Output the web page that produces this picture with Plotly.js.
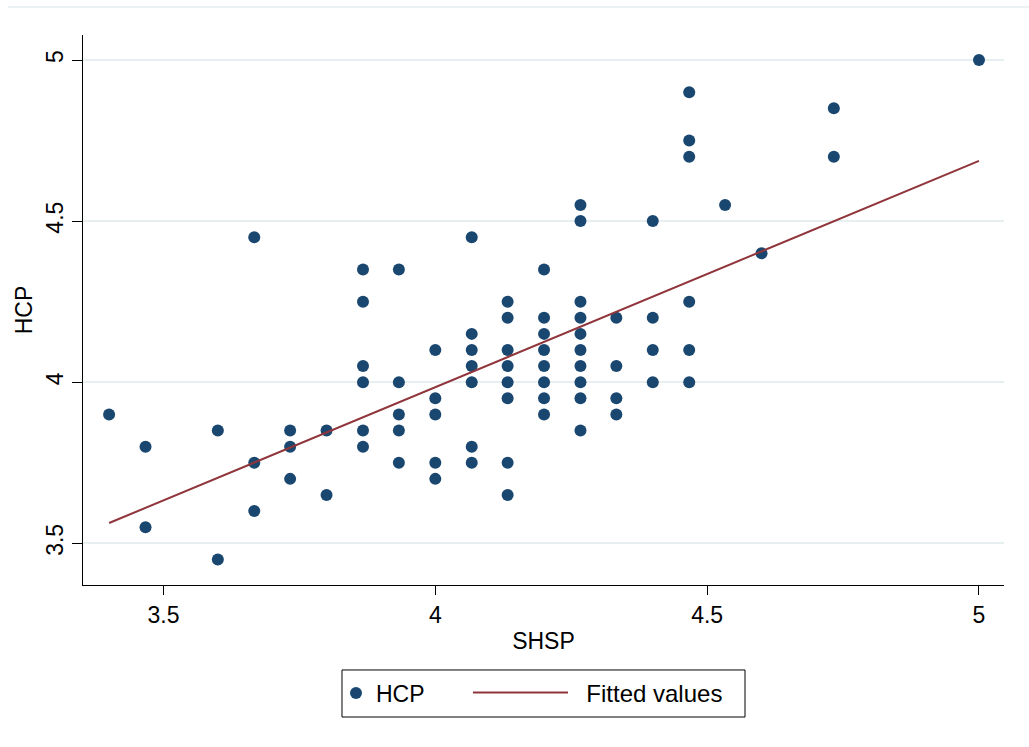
<!DOCTYPE html>
<html>
<head>
<meta charset="utf-8">
<script src="https://cdn.plot.ly/plotly-3.0.1.min.js"></script>
<style>
  html, body { margin: 0; padding: 0; background: #ffffff; }
  #chart { width: 1029px; height: 747px; }
</style>
</head>
<body>
<div id="chart"></div>
<script>
// SHSP levels (x) and the HCP values observed at each level (y)
const shspLevels = [3.4, 3.467, 3.6, 3.667, 3.733, 3.8, 3.867, 3.933, 4.0, 4.067,
                    4.133, 4.2, 4.267, 4.333, 4.4, 4.467, 4.533, 4.6, 4.733, 5.0];
const hcpAtLevel = [
  [3.9],
  [3.8, 3.55],
  [3.85, 3.45],
  [4.45, 3.75, 3.6],
  [3.85, 3.8, 3.7],
  [3.85, 3.65],
  [4.35, 4.25, 4.05, 4.0, 3.85, 3.8],
  [4.35, 4.0, 3.9, 3.85, 3.75],
  [4.1, 3.95, 3.9, 3.75, 3.7],
  [4.45, 4.15, 4.1, 4.05, 4.0, 3.8, 3.75],
  [4.25, 4.2, 4.1, 4.05, 4.0, 3.95, 3.75, 3.65],
  [4.35, 4.2, 4.15, 4.1, 4.05, 4.0, 3.95, 3.9],
  [4.55, 4.5, 4.25, 4.2, 4.15, 4.1, 4.05, 4.0, 3.95, 3.85],
  [4.2, 4.05, 3.95, 3.9],
  [4.5, 4.2, 4.1, 4.0],
  [4.9, 4.75, 4.7, 4.25, 4.1, 4.0],
  [4.55],
  [4.4],
  [4.85, 4.7],
  [5.0]
];
// Fitted values line (endpoints)
const fittedX = [3.4, 5.0];
const fittedY = [3.563, 4.687];

const xTicks = [3.5, 4, 4.5, 5];
const xTickText = ['3.5', '4', '4.5', '5'];
const yTicks = [3.5, 4, 4.5, 5];
const yTickText = ['3.5', '4', '4.5', '5'];

const scatterX = [], scatterY = [];
shspLevels.forEach((lv, i) => {
  hcpAtLevel[i].forEach(v => { scatterX.push(lv); scatterY.push(v); });
});

const FONT = 'Liberation Sans, Arial, sans-serif';

const traces = [
  {
    type: 'scatter', mode: 'markers', name: 'HCP',
    x: scatterX, y: scatterY,
    marker: { color: '#1a476f', size: 12, line: { width: 0 } },
    legend: 'legend'
  },
  {
    type: 'scatter', mode: 'lines', name: '\u00a0\u00a0Fitted values',
    x: fittedX, y: fittedY,
    line: { color: '#90353b', width: 2 },
    legend: 'legend2'
  }
];

const layout = {
  width: 1029, height: 747,
  margin: { l: 83, r: 25, t: 35, b: 162 },
  paper_bgcolor: '#ffffff', plot_bgcolor: '#ffffff',
  font: { family: FONT, size: 23, color: '#000000' },
  showlegend: true,
  legend: {
    orientation: 'h', x: 0.2747, xanchor: 'left', y: -0.1964, yanchor: 'middle',
    borderwidth: 0, bgcolor: 'rgba(0,0,0,0)',
    font: { family: FONT, size: 23, color: '#000000' }, itemwidth: 30
  },
  legend2: {
    orientation: 'h', x: 0.418, xanchor: 'left', y: -0.1964, yanchor: 'middle',
    borderwidth: 0, bgcolor: 'rgba(0,0,0,0)',
    font: { family: FONT, size: 24, color: '#000000' }, itemwidth: 95
  },
  xaxis: {
    range: [3.352, 5.046],
    tickvals: xTicks, ticktext: xTickText,
    showgrid: false, zeroline: false,
    showline: true, linecolor: '#000000', linewidth: 1,
    ticks: 'outside', ticklen: 9, tickcolor: '#000000', tickwidth: 1,
    tickfont: { family: FONT, size: 23, color: '#000000' },
    title: { text: 'SHSP', font: { family: FONT, size: 23, color: '#000000' }, standoff: 6 }
  },
  yaxis: {
    range: [3.3706, 5.0776],
    tickvals: yTicks, ticktext: yTickText,
    tickangle: -90,
    showgrid: true, gridcolor: '#e8eff1', gridwidth: 2,
    zeroline: false,
    showline: true, linecolor: '#000000', linewidth: 1,
    ticks: 'outside', ticklen: 10, tickcolor: '#000000', tickwidth: 1,
    tickfont: { family: FONT, size: 23, color: '#000000' },
    title: { text: 'HCP', font: { family: FONT, size: 23, color: '#000000' }, standoff: 2 }
  },
  shapes: [
    { type: 'line', xref: 'paper', yref: 'paper', x0: -0.0814, x1: 1.03, y0: 1.0509, y1: 1.0509,
      line: { color: '#e6eef0', width: 1.5 } },
    { type: 'rect', xref: 'paper', yref: 'paper', x0: 0.2812, x1: 0.7188, y0: -0.1545, y1: -0.24,
      line: { color: '#000000', width: 1 }, fillcolor: 'rgba(0,0,0,0)', layer: 'below' }
  ]
};

Plotly.newPlot('chart', traces, layout, { displayModeBar: false, staticPlot: true });
</script>
</body>
</html>
